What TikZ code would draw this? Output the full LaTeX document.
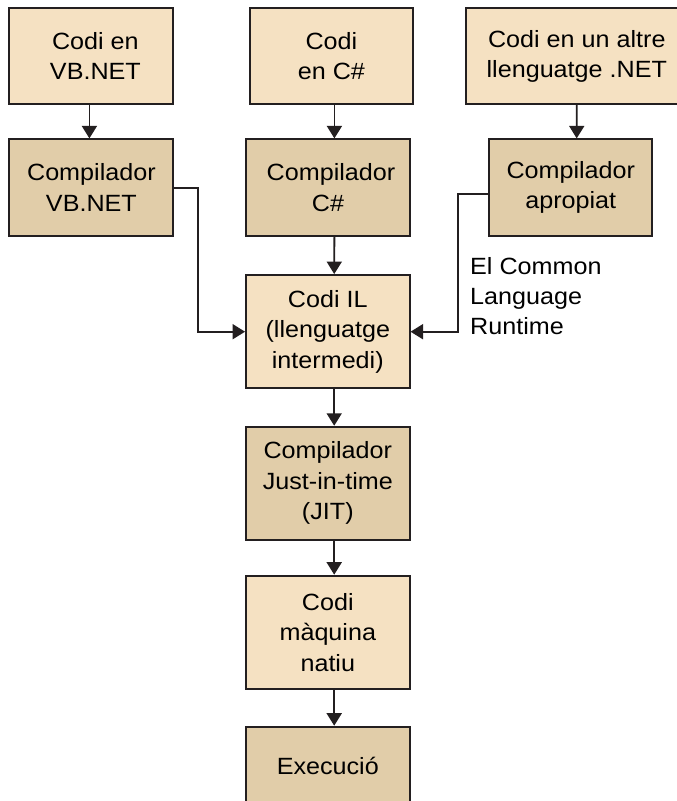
\documentclass[tikz,border=0pt]{standalone}
\usepackage{fontspec}
\setmainfont[FakeStretch=1.07]{Liberation Sans}
\usetikzlibrary{arrows.meta}
\definecolor{lightbox}{HTML}{F5E1C2}
\definecolor{darkbox}{HTML}{E1CDA9}
\definecolor{ink}{HTML}{231F20}
\tikzset{
  basebox/.style={draw=ink, line width=2pt, align=center, inner sep=0pt,
    font=\fontsize{23.5}{30.5}\selectfont, text=black},
  lbox/.style={basebox, fill=lightbox},
  dbox/.style={basebox, fill=darkbox},
  arr/.style={draw=ink, line width=1.8pt, -{Triangle[length=12.5pt,width=15pt]}},
  lbl/.style={align=left, inner sep=0pt, font=\fontsize{23.5}{30}\selectfont, text=black, anchor=north west}
}
\begin{document}
\begin{tikzpicture}[x=1pt,y=-1pt]
\useasboundingbox (0,0) rectangle (677,801);
\clip (0,0) rectangle (677,801);
\fill[white] (0,0) rectangle (677,801);
% top row
\node[lbox, minimum width=164pt, minimum height=96pt] (s1) at (91.4,56.2) {\hspace*{8pt}Codi en\\\hspace*{8pt}VB.NET};
\node[lbox, minimum width=163.6pt, minimum height=96pt] (s2) at (331.4,56.2) {Codi\\en C\#};
\node[lbox, minimum width=221pt, minimum height=96pt] (s3) at (576.8,56.2) {Codi en un altre\\llenguatge .NET};
% compilers
\node[dbox, minimum width=164pt, minimum height=96.4pt] (c1) at (91.4,187.6) {Compilador\\VB.NET};
\node[dbox, minimum width=164pt, minimum height=96.4pt] (c2) at (328,187.6) {\hspace*{6pt}Compilador\\C\#};
\node[dbox, minimum width=163pt, minimum height=96.4pt] (c3) at (570.8,187.6) {Compilador\\apropiat};
% central chain
\node[lbox, minimum width=163.5pt, minimum height=113.3pt] (il) at (327.8,331.7) {Codi IL\\(llenguatge\\intermedi)};
\node[dbox, minimum width=163.5pt, minimum height=113.3pt] (jit) at (327.8,483.4) {Compilador\\Just-in-time\\(JIT)};
\node[lbox, minimum width=163.5pt, minimum height=113.6pt] (nat) at (327.8,632.5) {Codi\\màquina\\natiu};
\node[dbox, minimum width=163.5pt, minimum height=78pt] (ex) at (327.8,765.7) {Execució};
% label
\node[lbl] (rt) at (470,257) {El Common\\Language\\Runtime};
% arrows
\draw[arr] ([xshift=-2pt]s1.south) -- ([xshift=-2pt]c1.north);
\draw[arr] ([xshift=3pt]s2.south) -- ([xshift=6.4pt]c2.north);
\draw[arr] (s3.south) -- ([xshift=5.9pt]c3.north);
\draw[arr] ([xshift=6.4pt]c2.south) -- ([xshift=6.4pt]il.north);
\draw[arr] ([xshift=6.4pt]il.south) -- ([xshift=6.4pt]jit.north);
\draw[arr] ([xshift=6.4pt]jit.south) -- ([xshift=6.4pt]nat.north);
\draw[arr] ([xshift=6.4pt]nat.south) -- ([xshift=6.4pt]ex.north);
\draw[arr] (c1.east) -- ++(23.5,0) |- (il.west);
\draw[arr] ([yshift=-6pt]c3.west) -- ++(-30,0) |- (il.east);
\end{tikzpicture}
\end{document}
